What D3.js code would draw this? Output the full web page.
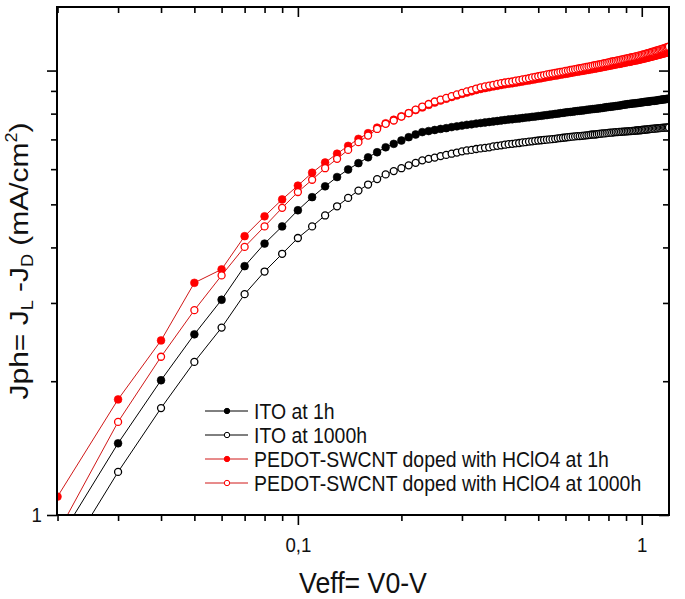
<!DOCTYPE html>
<html><head><meta charset="utf-8">
<script src="https://cdn.jsdelivr.net/npm/d3@7/dist/d3.min.js"></script>
<style>
html,body{margin:0;padding:0;background:#fff;}
svg{display:block;}
text{font-family:"Liberation Sans",Arial,sans-serif;fill:#111;}
</style></head>
<body>
<svg id="chart" width="685" height="599"></svg>
<script>
// ---- data ----
const veff = [0.02,0.03,0.04,0.05,0.06,0.07,0.08,0.09,0.10,0.11,
0.12,0.13,0.14,0.15,0.16,0.17,0.18,0.19,0.20,0.21,
0.22,0.23,0.24,0.25,0.26,0.27,0.28,0.29,0.30,0.31,
0.32,0.33,0.34,0.35,0.36,0.37,0.38,0.39,0.40,0.41,
0.42,0.43,0.44,0.45,0.46,0.47,0.48,0.49,0.50,0.51,
0.52,0.53,0.54,0.55,0.56,0.57,0.58,0.59,0.60,0.61,
0.62,0.63,0.64,0.65,0.66,0.67,0.68,0.69,0.70,0.71,
0.72,0.73,0.74,0.75,0.76,0.77,0.78,0.79,0.80,0.81,
0.82,0.83,0.84,0.85,0.86,0.87,0.88,0.89,0.90,0.91,
0.92,0.93,0.94,0.95,0.96,0.97,0.98,0.99,1.00,1.01,
1.02,1.03,1.04,1.05,1.06,1.07,1.08,1.09,1.10,1.11,
1.12,1.13,1.14,1.15,1.16,1.17,1.18,1.19,1.20];

const itoFresh = [0.87,1.45,2.01,2.55,3.05,3.63,4.08,4.46,4.85,5.19,
5.49,5.76,5.99,6.19,6.38,6.55,6.72,6.84,6.96,7.08,
7.18,7.27,7.31,7.35,7.39,7.42,7.46,7.49,7.52,7.55,
7.57,7.60,7.62,7.64,7.66,7.68,7.70,7.72,7.74,7.76,
7.77,7.79,7.80,7.82,7.84,7.85,7.87,7.88,7.90,7.91,
7.93,7.94,7.96,7.97,7.99,8.00,8.02,8.03,8.05,8.06,
8.07,8.08,8.10,8.11,8.12,8.13,8.14,8.16,8.17,8.18,
8.19,8.20,8.21,8.22,8.23,8.24,8.26,8.27,8.28,8.29,
8.30,8.31,8.32,8.33,8.34,8.35,8.37,8.38,8.39,8.40,
8.41,8.42,8.43,8.44,8.44,8.45,8.46,8.47,8.48,8.49,
8.50,8.51,8.51,8.52,8.53,8.54,8.55,8.55,8.56,8.57,
8.58,8.59,8.60,8.61,8.61,8.62,8.63,8.64,8.65];

const itoAged = [0.75,1.25,1.74,2.21,2.64,3.14,3.53,3.87,4.20,4.46,
4.72,4.95,5.17,5.37,5.54,5.70,5.84,5.94,6.03,6.12,
6.20,6.28,6.33,6.37,6.42,6.46,6.50,6.54,6.58,6.61,
6.63,6.66,6.68,6.70,6.72,6.75,6.77,6.79,6.81,6.83,
6.84,6.86,6.87,6.89,6.90,6.92,6.93,6.95,6.96,6.97,
6.98,6.99,7.00,7.01,7.02,7.04,7.05,7.06,7.07,7.08,
7.09,7.10,7.11,7.12,7.12,7.13,7.14,7.15,7.16,7.17,
7.18,7.18,7.19,7.20,7.21,7.22,7.22,7.23,7.24,7.25,
7.25,7.26,7.27,7.27,7.28,7.28,7.29,7.29,7.30,7.30,
7.31,7.31,7.32,7.32,7.33,7.33,7.34,7.34,7.35,7.36,
7.36,7.37,7.37,7.38,7.39,7.39,7.40,7.40,7.41,7.41,
7.42,7.42,7.43,7.43,7.44,7.44,7.44,7.45,7.45];

const pedotFresh = [1.10,1.82,2.47,3.33,3.57,4.24,4.70,5.13,5.51,5.89,
6.21,6.50,6.77,7.02,7.23,7.44,7.61,7.75,7.89,8.02,
8.15,8.26,8.37,8.47,8.56,8.64,8.72,8.79,8.86,8.92,
8.98,9.04,9.09,9.13,9.17,9.21,9.24,9.28,9.31,9.34,
9.36,9.39,9.42,9.45,9.48,9.50,9.53,9.56,9.59,9.61,
9.64,9.67,9.69,9.72,9.74,9.76,9.79,9.81,9.83,9.85,
9.88,9.90,9.92,9.94,9.96,9.98,10.00,10.02,10.04,10.06,
10.08,10.10,10.12,10.14,10.16,10.18,10.20,10.22,10.24,10.26,
10.28,10.30,10.32,10.34,10.35,10.37,10.39,10.41,10.43,10.45,
10.46,10.48,10.50,10.52,10.54,10.55,10.57,10.59,10.61,10.63,
10.65,10.67,10.69,10.71,10.73,10.75,10.77,10.79,10.81,10.83,
10.85,10.87,10.89,10.91,10.93,10.95,10.97,10.99,11.01];

const pedotAged = [0.91,1.62,2.27,2.89,3.46,4.01,4.46,4.91,5.33,5.68,
6.03,6.33,6.63,6.90,7.14,7.39,7.59,7.72,7.88,8.02,
8.17,8.30,8.41,8.52,8.60,8.68,8.76,8.84,8.91,8.98,
9.04,9.11,9.17,9.21,9.25,9.29,9.33,9.37,9.40,9.43,
9.45,9.49,9.52,9.55,9.58,9.61,9.65,9.68,9.71,9.74,
9.77,9.80,9.83,9.85,9.88,9.90,9.93,9.95,9.98,10.00,
10.03,10.05,10.07,10.10,10.12,10.14,10.17,10.19,10.21,10.23,
10.26,10.28,10.30,10.32,10.34,10.37,10.39,10.41,10.43,10.46,
10.48,10.50,10.52,10.54,10.56,10.58,10.60,10.62,10.64,10.66,
10.68,10.70,10.72,10.74,10.76,10.78,10.80,10.82,10.85,10.87,
10.89,10.92,10.94,10.96,10.99,11.01,11.03,11.06,11.08,11.10,
11.13,11.15,11.17,11.20,11.22,11.25,11.27,11.30,11.32];

const seriesNames = ["ITO at 1h","ITO at 1000h","PEDOT-SWCNT doped with HClO4 at 1h","PEDOT-SWCNT doped with HClO4 at 1000h"];
const xMajorTicks = [0.1, 1];
const xMajorLabels = ["0,1", "1"];
const xMinorTicks = [0.02,0.03,0.04,0.05,0.06,0.07,0.08,0.09,0.2,0.3,0.4,0.5,0.6,0.7,0.8,0.9];
const yMajorTicks = [1, 10];
const yMajorLabels = ["1", ""];
const yMinorTicks = [2,3,4,5,6,7,8,9];
const xTitle = "Veff= V0-V";

// ---- layout ----
const W = 685, H = 599;
const L = 57, R = 669, T = 7, B = 515;
const SQ = 0.89; // horizontal squeeze of the original picture's text

const svg = d3.select("#chart");
const x = d3.scaleLog().domain([0.01993, 1.2]).range([L, R]);
const y = d3.scaleLog().domain([1, 13.9]).range([B, T]);

const series = [
  {name: seriesNames[0], vals: itoFresh, line: "#000", fill: "#000", stroke: "#000"},
  {name: seriesNames[1], vals: itoAged, line: "#000", fill: "#fff", stroke: "#000"},
  {name: seriesNames[2], vals: pedotFresh, line: "#d01818", fill: "#ff0000", stroke: "#ff0000"},
  {name: seriesNames[3], vals: pedotAged, line: "#d01818", fill: "#fff", stroke: "#ff0000"}
];

svg.append("defs").append("clipPath").attr("id","plotclip")
  .append("rect").attr("x", L).attr("y", T).attr("width", R - L).attr("height", B - T);

const plot = svg.append("g").attr("clip-path","url(#plotclip)");
const lineGen = d3.line().x(d => x(d[0])).y(d => y(d[1]));

series.forEach(s => {
  const pts = veff.map((v, i) => [v, s.vals[i]]);
  plot.append("path").datum(pts)
    .attr("d", lineGen).attr("fill","none")
    .attr("stroke", s.line).attr("stroke-width", 1);
});
series.forEach(s => {
  const pts = veff.map((v, i) => [v, s.vals[i]]);
  plot.append("g").selectAll("circle").data(pts).join("circle")
    .attr("cx", d => x(d[0])).attr("cy", d => y(d[1]))
    .attr("r", s.fill === "#fff" ? 3.5 : 3.9)
    .attr("fill", s.fill).attr("stroke", s.stroke)
    .attr("stroke-width", s.fill === "#fff" ? 1.3 : 0.6);
});

// ---- axes ----
const fontTick = 21;
function styleAxis(g){
  g.select(".domain").remove();
  g.selectAll(".tick line").attr("stroke","#000").attr("stroke-width",1.6);
  g.selectAll("text").attr("font-size", fontTick).attr("fill","#111")
    .attr("font-family","Liberation Sans, Arial, sans-serif");
}
// bottom
svg.append("g").attr("transform",`translate(0,${B})`)
  .call(d3.axisBottom(x).tickValues(xMajorTicks).tickSize(10)
    .tickFormat((d,i) => xMajorLabels[i]))
  .call(styleAxis)
  .call(g => g.selectAll("text").attr("y", 37).attr("dy", 0)
    .attr("transform", `scale(${SQ},1)`));
svg.append("g").attr("transform",`translate(0,${B})`)
  .call(d3.axisBottom(x).tickValues(xMinorTicks).tickSize(6).tickFormat(""))
  .call(styleAxis);
// top (inward)
svg.append("g").attr("transform",`translate(0,${T})`)
  .call(d3.axisBottom(x).tickValues(xMajorTicks).tickSize(10).tickFormat(""))
  .call(styleAxis);
svg.append("g").attr("transform",`translate(0,${T})`)
  .call(d3.axisBottom(x).tickValues(xMinorTicks).tickSize(6).tickFormat(""))
  .call(styleAxis);
// left (outward)
svg.append("g").attr("transform",`translate(${L},0)`)
  .call(d3.axisLeft(y).tickValues(yMajorTicks).tickSize(10)
    .tickFormat((d,i) => yMajorLabels[i]))
  .call(styleAxis)
  .call(g => g.selectAll("text").attr("x", -15 / SQ).attr("dy","0.33em")
    .attr("transform", `scale(${SQ},1)`));
svg.append("g").attr("transform",`translate(${L},0)`)
  .call(d3.axisLeft(y).tickValues(yMinorTicks).tickSize(6).tickFormat(""))
  .call(styleAxis);
// right (inward)
svg.append("g").attr("transform",`translate(${R},0)`)
  .call(d3.axisLeft(y).tickValues(yMajorTicks).tickSize(10).tickFormat(""))
  .call(styleAxis);
svg.append("g").attr("transform",`translate(${R},0)`)
  .call(d3.axisLeft(y).tickValues(yMinorTicks).tickSize(6).tickFormat(""))
  .call(styleAxis);

// frame
svg.append("rect").attr("x", L).attr("y", T).attr("width", R - L).attr("height", B - T)
  .attr("fill","none").attr("stroke","#000").attr("stroke-width",2);

// ---- titles ----
svg.append("text")
  .attr("transform", `translate(${(L + R) / 2},593) scale(${SQ},1)`)
  .attr("text-anchor","middle").attr("font-size",30).text(xTitle);

const yt = svg.append("text")
  .attr("transform", `translate(28,${(T + B) / 2}) rotate(-90) scale(1,${SQ})`)
  .attr("text-anchor","middle").attr("font-size",30);
yt.append("tspan").text("Jph= J");
yt.append("tspan").attr("font-size",18).attr("dy",6).text("L");
yt.append("tspan").attr("dy",-6).text(" -J");
yt.append("tspan").attr("font-size",18).attr("dy",6).text("D");
yt.append("tspan").attr("dy",-6).text(" (mA/cm");
yt.append("tspan").attr("font-size",18).attr("dy",-12).text("2");
yt.append("tspan").attr("dy",12).text(")");

// ---- legend ----
const lg = svg.append("g");
const rowY = [411, 435, 459, 483];
series.forEach((s, i) => {
  const g = lg.append("g").attr("transform", `translate(0,${rowY[i]})`);
  g.append("line").attr("x1",205).attr("x2",248).attr("y1",0).attr("y2",0)
    .attr("stroke", s.line).attr("stroke-width",1);
  g.append("circle").attr("cx",227).attr("cy",0).attr("r", 2.7)
    .attr("fill", s.fill).attr("stroke", s.stroke).attr("stroke-width",1);
  g.append("text").attr("transform", `translate(254,7.5) scale(0.9,1)`)
    .attr("font-size",21.6).text(s.name);
});
</script>
</body></html>
